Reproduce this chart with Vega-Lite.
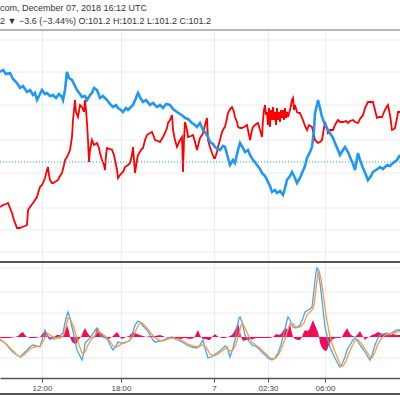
{
  "$schema": "https://vega.github.io/schema/vega-lite/v6.json",
  "autosize": {"type": "none"},
  "padding": {"top": 30, "left": 0, "right": 0, "bottom": 22},
  "background": "white",
  "width": 400,
  "height": 348,
  "title": {
    "text": "com, December 07, 2018 16:12 UTC",
    "subtitle": "2 ▼ −3.6 (−3.44%) O:101.2 H:101.2 L:101.2 C:101.2",
    "anchor": "start",
    "frame": "group",
    "font": "Liberation Sans",
    "fontSize": 9,
    "fontWeight": "normal",
    "color": "#333333",
    "subtitleFont": "Liberation Sans",
    "subtitleFontSize": 9,
    "subtitleColor": "#333333",
    "subtitlePadding": 4,
    "offset": 3
  },
  "datasets": {
    "symbol": [
      {"i": 0, "p": -4.5}, {"i": 3, "p": -4.3}, {"i": 6, "p": -4.2}, {"i": 8, "p": -4.1}, {"i": 10, "p": -4.6},
      {"i": 12, "p": -5.1}, {"i": 14, "p": -5.8}, {"i": 17, "p": -6.6}, {"i": 20, "p": -6.6}, {"i": 22, "p": -6.5},
      {"i": 25, "p": -6.4}, {"i": 27, "p": -6.3}, {"i": 28, "p": -4.8}, {"i": 30, "p": -4.5}, {"i": 33, "p": -4.1},
      {"i": 35, "p": -3.8}, {"i": 37, "p": -3.5}, {"i": 39, "p": -2.8}, {"i": 40, "p": -2.5}, {"i": 42, "p": -2.3},
      {"i": 43, "p": -2.1}, {"i": 45, "p": -1.6}, {"i": 47, "p": -0.8}, {"i": 48, "p": -0.5}, {"i": 49, "p": -1.3},
      {"i": 50, "p": -1.8}, {"i": 52, "p": -2.1}, {"i": 53, "p": -2.1}, {"i": 55, "p": -2.0}, {"i": 58, "p": -1.8},
      {"i": 60, "p": -1.4}, {"i": 62, "p": -1.1}, {"i": 64, "p": -0.3}, {"i": 65, "p": 0.2}, {"i": 67, "p": 0.5},
      {"i": 68, "p": 0.7}, {"i": 70, "p": 1.2}, {"i": 72, "p": 2.5}, {"i": 73, "p": 4.2}, {"i": 74, "p": 5.2},
      {"i": 75, "p": 6.2}, {"i": 76, "p": 5.0}, {"i": 78, "p": 4.5}, {"i": 80, "p": 5.7}, {"i": 82, "p": 5.5},
      {"i": 84, "p": 5.0}, {"i": 85, "p": 6.2}, {"i": 86, "p": 5.2}, {"i": 87, "p": 3.9}, {"i": 88, "p": 2.2},
      {"i": 89, "p": 0.0}, {"i": 90, "p": 1.2}, {"i": 92, "p": 2.2}, {"i": 94, "p": 1.7}, {"i": 97, "p": 1.9},
      {"i": 99, "p": 1.4}, {"i": 100, "p": 0.9}, {"i": 102, "p": 0.2}, {"i": 104, "p": -0.3}, {"i": 105, "p": -0.8},
      {"i": 106, "p": 0.7}, {"i": 107, "p": 1.4}, {"i": 110, "p": 1.3}, {"i": 112, "p": 1.2}, {"i": 114, "p": 0.7},
      {"i": 115, "p": 0.2}, {"i": 117, "p": -0.8}, {"i": 118, "p": -1.6}, {"i": 120, "p": -1.3}, {"i": 122, "p": -1.1},
      {"i": 124, "p": -0.8}, {"i": 125, "p": -0.5}, {"i": 128, "p": -0.3}, {"i": 130, "p": -0.1}, {"i": 132, "p": 0.7},
      {"i": 133, "p": 1.5}, {"i": 134, "p": 0.2}, {"i": 135, "p": -1.1}, {"i": 137, "p": 0.2}, {"i": 138, "p": 0.7},
      {"i": 141, "p": 1.2}, {"i": 143, "p": 1.4}, {"i": 145, "p": 2.2}, {"i": 147, "p": 2.7}, {"i": 150, "p": 2.9},
      {"i": 152, "p": 3.0}, {"i": 154, "p": 2.5}, {"i": 155, "p": 2.2}, {"i": 158, "p": 2.1}, {"i": 160, "p": 2.0},
      {"i": 163, "p": 2.5}, {"i": 165, "p": 2.9}, {"i": 167, "p": 3.4}, {"i": 168, "p": 3.9}, {"i": 170, "p": 4.2},
      {"i": 172, "p": 4.7}, {"i": 173, "p": 3.2}, {"i": 175, "p": 2.2}, {"i": 177, "p": 1.5}, {"i": 179, "p": 2.0},
      {"i": 182, "p": 2.5}, {"i": 183, "p": -1.0}, {"i": 184, "p": 2.2}, {"i": 185, "p": 4.0}, {"i": 187, "p": 3.2},
      {"i": 188, "p": 2.5}, {"i": 191, "p": 2.6}, {"i": 193, "p": 2.7}, {"i": 195, "p": 2.0}, {"i": 197, "p": 1.2},
      {"i": 199, "p": 2.0}, {"i": 200, "p": 2.4}, {"i": 202, "p": 2.7}, {"i": 203, "p": 2.9}, {"i": 205, "p": 3.7},
      {"i": 207, "p": 4.4}, {"i": 208, "p": 2.2}, {"i": 210, "p": 1.5}, {"i": 212, "p": 0.9}, {"i": 214, "p": 0.4},
      {"i": 215, "p": 0.4}, {"i": 217, "p": 1.0}, {"i": 218, "p": 1.5}, {"i": 220, "p": 2.2}, {"i": 222, "p": 3.0},
      {"i": 224, "p": 3.4}, {"i": 225, "p": 3.5}, {"i": 227, "p": 4.4}, {"i": 228, "p": 4.9}, {"i": 230, "p": 5.3},
      {"i": 232, "p": 5.5}, {"i": 234, "p": 5.0}, {"i": 235, "p": 4.5}, {"i": 237, "p": 4.0}, {"i": 238, "p": 3.5},
      {"i": 240, "p": 3.4}, {"i": 242, "p": 3.4}, {"i": 244, "p": 3.5}, {"i": 247, "p": 3.7}, {"i": 249, "p": 2.7},
      {"i": 250, "p": 2.2}, {"i": 252, "p": 3.2}, {"i": 253, "p": 3.5}, {"i": 255, "p": 3.7}, {"i": 258, "p": 3.9},
      {"i": 260, "p": 3.2}, {"i": 262, "p": 2.5}, {"i": 263, "p": 4.2}, {"i": 264, "p": 5.2}, {"i": 265, "p": 5.7},
      {"i": 266, "p": 4.7}, {"i": 267, "p": 5.0}, {"i": 268, "p": 3.7}, {"i": 269, "p": 5.4}, {"i": 270, "p": 3.5},
      {"i": 271, "p": 5.2}, {"i": 272, "p": 4.2}, {"i": 273, "p": 5.5}, {"i": 274, "p": 4.2}, {"i": 275, "p": 5.0},
      {"i": 276, "p": 3.7}, {"i": 277, "p": 5.4}, {"i": 278, "p": 4.2}, {"i": 279, "p": 5.0}, {"i": 280, "p": 4.0},
      {"i": 281, "p": 5.2}, {"i": 282, "p": 4.4}, {"i": 283, "p": 5.2}, {"i": 284, "p": 4.2}, {"i": 285, "p": 5.4},
      {"i": 286, "p": 4.4}, {"i": 287, "p": 5.0}, {"i": 288, "p": 4.5}, {"i": 290, "p": 5.2}, {"i": 291, "p": 5.7},
      {"i": 292, "p": 6.2}, {"i": 293, "p": 6.4}, {"i": 294, "p": 5.2}, {"i": 295, "p": 5.7}, {"i": 297, "p": 5.0},
      {"i": 299, "p": 4.9}, {"i": 300, "p": 4.9}, {"i": 302, "p": 4.4}, {"i": 303, "p": 4.2}, {"i": 305, "p": 3.6},
      {"i": 307, "p": 3.2}, {"i": 309, "p": 3.7}, {"i": 312, "p": 3.5}, {"i": 314, "p": 2.7}, {"i": 315, "p": 2.2},
      {"i": 317, "p": 2.0}, {"i": 318, "p": 1.9}, {"i": 320, "p": 2.0}, {"i": 322, "p": 2.2}, {"i": 324, "p": 3.4},
      {"i": 325, "p": 4.0}, {"i": 327, "p": 3.4}, {"i": 328, "p": 2.9}, {"i": 330, "p": 3.2}, {"i": 333, "p": 3.2},
      {"i": 335, "p": 3.7}, {"i": 338, "p": 4.2}, {"i": 340, "p": 4.0}, {"i": 343, "p": 4.0}, {"i": 346, "p": 4.1},
      {"i": 348, "p": 3.9}, {"i": 350, "p": 4.1}, {"i": 353, "p": 4.2}, {"i": 355, "p": 4.0}, {"i": 358, "p": 3.9},
      {"i": 360, "p": 4.3}, {"i": 363, "p": 4.7}, {"i": 365, "p": 5.4}, {"i": 368, "p": 6.0}, {"i": 370, "p": 6.0},
      {"i": 373, "p": 6.0}, {"i": 375, "p": 5.2}, {"i": 377, "p": 4.4}, {"i": 379, "p": 4.5}, {"i": 382, "p": 4.5},
      {"i": 384, "p": 5.0}, {"i": 386, "p": 5.4}, {"i": 388, "p": 5.7}, {"i": 390, "p": 4.7}, {"i": 392, "p": 3.2},
      {"i": 394, "p": 3.3}, {"i": 395, "p": 3.4}, {"i": 397, "p": 4.4}, {"i": 398, "p": 5.0}, {"i": 400, "p": 5.0}
    ],
    "compare": [
      {"i": 0, "p": 9.0}, {"i": 3, "p": 9.2}, {"i": 6, "p": 8.8}, {"i": 10, "p": 8.9}, {"i": 13, "p": 8.3},
      {"i": 17, "p": 7.9}, {"i": 20, "p": 7.4}, {"i": 23, "p": 7.6}, {"i": 27, "p": 7.0}, {"i": 30, "p": 7.2},
      {"i": 33, "p": 6.7}, {"i": 35, "p": 6.9}, {"i": 37, "p": 6.2}, {"i": 40, "p": 6.8}, {"i": 42, "p": 7.2},
      {"i": 45, "p": 6.8}, {"i": 47, "p": 6.9}, {"i": 50, "p": 6.6}, {"i": 53, "p": 6.7}, {"i": 56, "p": 6.4},
      {"i": 59, "p": 6.8}, {"i": 62, "p": 6.5}, {"i": 63, "p": 6.2}, {"i": 65, "p": 7.2}, {"i": 67, "p": 9.0},
      {"i": 69, "p": 8.4}, {"i": 72, "p": 8.2}, {"i": 75, "p": 7.6}, {"i": 77, "p": 7.2}, {"i": 80, "p": 6.8},
      {"i": 82, "p": 6.5}, {"i": 85, "p": 6.6}, {"i": 87, "p": 6.2}, {"i": 90, "p": 6.7}, {"i": 92, "p": 6.9},
      {"i": 94, "p": 7.4}, {"i": 97, "p": 7.2}, {"i": 100, "p": 6.4}, {"i": 103, "p": 6.6}, {"i": 107, "p": 6.2},
      {"i": 110, "p": 5.8}, {"i": 113, "p": 5.5}, {"i": 116, "p": 5.7}, {"i": 118, "p": 5.4}, {"i": 121, "p": 5.2},
      {"i": 123, "p": 5.0}, {"i": 126, "p": 5.4}, {"i": 128, "p": 5.2}, {"i": 131, "p": 5.5}, {"i": 133, "p": 5.7},
      {"i": 136, "p": 6.4}, {"i": 138, "p": 6.9}, {"i": 141, "p": 6.3}, {"i": 143, "p": 6.0}, {"i": 146, "p": 6.2},
      {"i": 150, "p": 5.7}, {"i": 153, "p": 5.9}, {"i": 157, "p": 5.5}, {"i": 160, "p": 5.7}, {"i": 163, "p": 5.4},
      {"i": 166, "p": 5.8}, {"i": 170, "p": 5.7}, {"i": 173, "p": 5.3}, {"i": 177, "p": 5.0}, {"i": 180, "p": 4.8},
      {"i": 183, "p": 4.6}, {"i": 185, "p": 4.4}, {"i": 188, "p": 4.3}, {"i": 192, "p": 3.9}, {"i": 195, "p": 3.7},
      {"i": 197, "p": 3.5}, {"i": 200, "p": 3.9}, {"i": 203, "p": 3.2}, {"i": 205, "p": 3.0}, {"i": 208, "p": 2.5},
      {"i": 210, "p": 2.0}, {"i": 213, "p": 1.8}, {"i": 215, "p": 1.5}, {"i": 218, "p": 1.3}, {"i": 220, "p": 1.2},
      {"i": 223, "p": 1.6}, {"i": 225, "p": 1.5}, {"i": 228, "p": 0.4}, {"i": 230, "p": -0.3}, {"i": 233, "p": 0.2},
      {"i": 235, "p": -0.1}, {"i": 238, "p": 1.2}, {"i": 240, "p": 1.9}, {"i": 243, "p": 1.4}, {"i": 245, "p": 1.0},
      {"i": 248, "p": 1.2}, {"i": 250, "p": 0.7}, {"i": 253, "p": 0.2}, {"i": 255, "p": 0.0}, {"i": 257, "p": -0.3},
      {"i": 260, "p": -0.7}, {"i": 262, "p": -1.1}, {"i": 265, "p": -1.4}, {"i": 267, "p": -1.8}, {"i": 270, "p": -2.4},
      {"i": 272, "p": -3.0}, {"i": 275, "p": -2.8}, {"i": 277, "p": -3.1}, {"i": 280, "p": -2.9}, {"i": 283, "p": -3.3},
      {"i": 285, "p": -2.6}, {"i": 287, "p": -1.8}, {"i": 290, "p": -1.4}, {"i": 292, "p": -1.0}, {"i": 295, "p": -1.6},
      {"i": 297, "p": -2.1}, {"i": 300, "p": -1.6}, {"i": 302, "p": -1.1}, {"i": 305, "p": -0.4}, {"i": 307, "p": 0.4},
      {"i": 310, "p": 1.0}, {"i": 312, "p": 1.5}, {"i": 314, "p": 3.2}, {"i": 315, "p": 4.9}, {"i": 317, "p": 5.7},
      {"i": 318, "p": 6.2}, {"i": 320, "p": 5.4}, {"i": 322, "p": 4.5}, {"i": 325, "p": 3.7}, {"i": 328, "p": 3.2},
      {"i": 330, "p": 2.9}, {"i": 333, "p": 2.4}, {"i": 335, "p": 1.9}, {"i": 338, "p": 1.2}, {"i": 340, "p": 0.7},
      {"i": 343, "p": 1.2}, {"i": 345, "p": 1.5}, {"i": 348, "p": 1.0}, {"i": 350, "p": 0.5}, {"i": 353, "p": -0.2},
      {"i": 355, "p": -0.8}, {"i": 358, "p": 0.9}, {"i": 360, "p": 0.2}, {"i": 363, "p": -0.6}, {"i": 366, "p": -1.3},
      {"i": 368, "p": -1.8}, {"i": 371, "p": -1.4}, {"i": 373, "p": -1.0}, {"i": 376, "p": -0.8}, {"i": 380, "p": -0.5},
      {"i": 383, "p": -0.7}, {"i": 387, "p": -0.3}, {"i": 390, "p": -0.4}, {"i": 393, "p": -0.1}, {"i": 397, "p": 0.2},
      {"i": 400, "p": 0.7}
    ],
    "macd": [
      {"i": 0, "m": -0.03}, {"i": 4, "m": -0.05}, {"i": 7, "m": -0.08}, {"i": 10, "m": -0.12}, {"i": 13, "m": -0.15},
      {"i": 17, "m": -0.18}, {"i": 20, "m": -0.2}, {"i": 23, "m": -0.17}, {"i": 27, "m": -0.13}, {"i": 30, "m": -0.1},
      {"i": 33, "m": -0.08}, {"i": 37, "m": -0.09}, {"i": 40, "m": -0.1}, {"i": 42, "m": -0.03}, {"i": 45, "m": 0.07},
      {"i": 48, "m": 0.01}, {"i": 50, "m": -0.01}, {"i": 54, "m": -0.02}, {"i": 57, "m": -0.01}, {"i": 60, "m": 0.01},
      {"i": 63, "m": 0.04}, {"i": 66, "m": 0.19}, {"i": 68, "m": 0.25}, {"i": 70, "m": 0.19}, {"i": 72, "m": 0.1},
      {"i": 75, "m": -0.03}, {"i": 77, "m": -0.13}, {"i": 80, "m": -0.19}, {"i": 82, "m": -0.23}, {"i": 84, "m": -0.15},
      {"i": 85, "m": -0.06}, {"i": 88, "m": -0.03}, {"i": 90, "m": -0.01}, {"i": 94, "m": 0.05}, {"i": 97, "m": 0.09},
      {"i": 100, "m": 0.03}, {"i": 102, "m": 0.0}, {"i": 105, "m": 0.0}, {"i": 107, "m": -0.01}, {"i": 110, "m": -0.08},
      {"i": 113, "m": -0.13}, {"i": 116, "m": -0.09}, {"i": 118, "m": -0.05}, {"i": 121, "m": -0.06}, {"i": 123, "m": -0.06},
      {"i": 127, "m": -0.05}, {"i": 130, "m": -0.03}, {"i": 133, "m": 0.05}, {"i": 135, "m": 0.12}, {"i": 138, "m": 0.16},
      {"i": 140, "m": 0.15}, {"i": 143, "m": 0.11}, {"i": 147, "m": 0.07}, {"i": 150, "m": 0.02}, {"i": 153, "m": -0.03},
      {"i": 155, "m": -0.05}, {"i": 160, "m": -0.04}, {"i": 163, "m": -0.03}, {"i": 168, "m": -0.01}, {"i": 172, "m": 0.0},
      {"i": 175, "m": -0.02}, {"i": 178, "m": -0.03}, {"i": 182, "m": -0.05}, {"i": 187, "m": -0.08}, {"i": 192, "m": -0.1},
      {"i": 197, "m": -0.11}, {"i": 200, "m": -0.08}, {"i": 203, "m": -0.03}, {"i": 205, "m": -0.11}, {"i": 208, "m": -0.21},
      {"i": 211, "m": -0.2}, {"i": 214, "m": -0.18}, {"i": 217, "m": -0.16}, {"i": 221, "m": -0.13}, {"i": 225, "m": -0.09},
      {"i": 227, "m": -0.1}, {"i": 230, "m": -0.2}, {"i": 233, "m": -0.11}, {"i": 235, "m": -0.03}, {"i": 237, "m": 0.09},
      {"i": 239, "m": 0.19}, {"i": 240, "m": 0.2}, {"i": 242, "m": 0.15}, {"i": 245, "m": 0.02}, {"i": 248, "m": -0.03},
      {"i": 252, "m": -0.08}, {"i": 255, "m": -0.09}, {"i": 258, "m": -0.11}, {"i": 262, "m": -0.15}, {"i": 265, "m": -0.18},
      {"i": 268, "m": -0.21}, {"i": 272, "m": -0.23}, {"i": 275, "m": -0.21}, {"i": 278, "m": -0.16}, {"i": 281, "m": -0.08},
      {"i": 283, "m": 0.01}, {"i": 285, "m": 0.07}, {"i": 287, "m": 0.17}, {"i": 288, "m": 0.2}, {"i": 290, "m": 0.17},
      {"i": 293, "m": 0.1}, {"i": 296, "m": 0.09}, {"i": 300, "m": 0.12}, {"i": 303, "m": 0.19}, {"i": 305, "m": 0.25},
      {"i": 308, "m": 0.27}, {"i": 310, "m": 0.28}, {"i": 312, "m": 0.3}, {"i": 314, "m": 0.47}, {"i": 316, "m": 0.65},
      {"i": 317, "m": 0.69}, {"i": 318, "m": 0.68}, {"i": 320, "m": 0.54}, {"i": 322, "m": 0.37}, {"i": 325, "m": 0.1},
      {"i": 328, "m": -0.03}, {"i": 330, "m": -0.1}, {"i": 333, "m": -0.17}, {"i": 335, "m": -0.21}, {"i": 338, "m": -0.27},
      {"i": 340, "m": -0.3}, {"i": 342, "m": -0.27}, {"i": 345, "m": -0.2}, {"i": 347, "m": -0.13}, {"i": 350, "m": -0.08},
      {"i": 353, "m": -0.03}, {"i": 355, "m": -0.01}, {"i": 357, "m": -0.03}, {"i": 360, "m": -0.08}, {"i": 363, "m": -0.12},
      {"i": 365, "m": -0.15}, {"i": 368, "m": -0.2}, {"i": 370, "m": -0.23}, {"i": 372, "m": -0.18}, {"i": 375, "m": -0.08},
      {"i": 378, "m": -0.01}, {"i": 380, "m": 0.02}, {"i": 384, "m": 0.03}, {"i": 387, "m": 0.04}, {"i": 390, "m": 0.02},
      {"i": 393, "m": 0.05}, {"i": 397, "m": 0.07}, {"i": 400, "m": 0.07}
    ],
    "signal": [
      {"i": 0, "m": -0.02}, {"i": 5, "m": -0.06}, {"i": 10, "m": -0.11}, {"i": 15, "m": -0.16}, {"i": 18, "m": -0.19},
      {"i": 21, "m": -0.2}, {"i": 25, "m": -0.17}, {"i": 30, "m": -0.12}, {"i": 35, "m": -0.1}, {"i": 40, "m": -0.09},
      {"i": 44, "m": -0.03}, {"i": 47, "m": 0.04}, {"i": 50, "m": 0.02}, {"i": 55, "m": -0.01}, {"i": 60, "m": -0.01},
      {"i": 63, "m": 0.01}, {"i": 66, "m": 0.1}, {"i": 68, "m": 0.19}, {"i": 70, "m": 0.18}, {"i": 73, "m": 0.12},
      {"i": 76, "m": 0.02}, {"i": 79, "m": -0.08}, {"i": 82, "m": -0.16}, {"i": 85, "m": -0.15}, {"i": 88, "m": -0.08},
      {"i": 91, "m": -0.03}, {"i": 95, "m": 0.02}, {"i": 98, "m": 0.06}, {"i": 101, "m": 0.04}, {"i": 105, "m": 0.01},
      {"i": 109, "m": -0.03}, {"i": 113, "m": -0.09}, {"i": 117, "m": -0.1}, {"i": 121, "m": -0.07}, {"i": 125, "m": -0.06},
      {"i": 129, "m": -0.04}, {"i": 133, "m": 0.0}, {"i": 136, "m": 0.07}, {"i": 139, "m": 0.13}, {"i": 142, "m": 0.14},
      {"i": 146, "m": 0.1}, {"i": 150, "m": 0.05}, {"i": 154, "m": 0.0}, {"i": 158, "m": -0.03}, {"i": 163, "m": -0.04},
      {"i": 168, "m": -0.02}, {"i": 172, "m": -0.01}, {"i": 178, "m": -0.02}, {"i": 183, "m": -0.04}, {"i": 188, "m": -0.07},
      {"i": 193, "m": -0.09}, {"i": 198, "m": -0.1}, {"i": 202, "m": -0.08}, {"i": 206, "m": -0.1}, {"i": 210, "m": -0.17},
      {"i": 214, "m": -0.19}, {"i": 218, "m": -0.17}, {"i": 222, "m": -0.14}, {"i": 226, "m": -0.11}, {"i": 230, "m": -0.14},
      {"i": 233, "m": -0.13}, {"i": 236, "m": -0.07}, {"i": 239, "m": 0.03}, {"i": 241, "m": 0.12}, {"i": 243, "m": 0.13},
      {"i": 246, "m": 0.07}, {"i": 249, "m": 0.0}, {"i": 253, "m": -0.06}, {"i": 257, "m": -0.09}, {"i": 261, "m": -0.12},
      {"i": 265, "m": -0.16}, {"i": 269, "m": -0.2}, {"i": 272, "m": -0.22}, {"i": 276, "m": -0.21}, {"i": 279, "m": -0.17},
      {"i": 282, "m": -0.1}, {"i": 285, "m": -0.02}, {"i": 288, "m": 0.08}, {"i": 290, "m": 0.13}, {"i": 293, "m": 0.13},
      {"i": 296, "m": 0.1}, {"i": 300, "m": 0.1}, {"i": 304, "m": 0.14}, {"i": 307, "m": 0.22}, {"i": 310, "m": 0.25},
      {"i": 312, "m": 0.27}, {"i": 314, "m": 0.32}, {"i": 316, "m": 0.48}, {"i": 318, "m": 0.64}, {"i": 319, "m": 0.66},
      {"i": 321, "m": 0.58}, {"i": 323, "m": 0.44}, {"i": 326, "m": 0.22}, {"i": 329, "m": 0.05}, {"i": 332, "m": -0.07},
      {"i": 335, "m": -0.15}, {"i": 338, "m": -0.22}, {"i": 341, "m": -0.29}, {"i": 343, "m": -0.29}, {"i": 346, "m": -0.24},
      {"i": 349, "m": -0.16}, {"i": 352, "m": -0.09}, {"i": 355, "m": -0.04}, {"i": 358, "m": -0.03}, {"i": 361, "m": -0.06},
      {"i": 364, "m": -0.1}, {"i": 367, "m": -0.15}, {"i": 370, "m": -0.2}, {"i": 372, "m": -0.21}, {"i": 375, "m": -0.15},
      {"i": 378, "m": -0.07}, {"i": 381, "m": -0.02}, {"i": 385, "m": 0.02}, {"i": 389, "m": 0.03}, {"i": 393, "m": 0.04},
      {"i": 397, "m": 0.05}, {"i": 400, "m": 0.06}
    ],
    "hist": [
      {"i": 0, "h": -0.01}, {"i": 5, "h": -0.01}, {"i": 10, "h": -0.01}, {"i": 15, "h": 0}, {"i": 18, "h": 0.01},
      {"i": 21, "h": 0.04}, {"i": 23, "h": 0.05}, {"i": 25, "h": 0.02}, {"i": 27, "h": 0}, {"i": 30, "h": -0.01},
      {"i": 35, "h": -0.01}, {"i": 40, "h": 0}, {"i": 43, "h": 0.04}, {"i": 45, "h": 0.06}, {"i": 47, "h": 0.02},
      {"i": 48, "h": -0.01}, {"i": 50, "h": -0.03}, {"i": 53, "h": -0.01}, {"i": 55, "h": 0.01}, {"i": 57, "h": 0.02},
      {"i": 60, "h": 0.02}, {"i": 62, "h": 0}, {"i": 64, "h": 0.02}, {"i": 66, "h": 0.08}, {"i": 67, "h": 0.12},
      {"i": 69, "h": 0.06}, {"i": 70, "h": 0}, {"i": 72, "h": -0.05}, {"i": 75, "h": -0.07}, {"i": 77, "h": -0.06},
      {"i": 79, "h": -0.02}, {"i": 81, "h": 0}, {"i": 83, "h": 0.05}, {"i": 85, "h": 0.09}, {"i": 87, "h": 0.05},
      {"i": 89, "h": 0.02}, {"i": 91, "h": 0}, {"i": 93, "h": -0.01}, {"i": 95, "h": 0}, {"i": 96, "h": 0.06},
      {"i": 98, "h": 0.09}, {"i": 100, "h": 0.04}, {"i": 102, "h": 0.03}, {"i": 104, "h": 0}, {"i": 106, "h": -0.02},
      {"i": 108, "h": -0.03}, {"i": 110, "h": -0.01}, {"i": 112, "h": 0}, {"i": 115, "h": 0.03}, {"i": 117, "h": 0.05},
      {"i": 119, "h": 0.02}, {"i": 120, "h": 0}, {"i": 122, "h": -0.02}, {"i": 124, "h": -0.01}, {"i": 126, "h": 0},
      {"i": 129, "h": 0.01}, {"i": 131, "h": 0.03}, {"i": 133, "h": 0.05}, {"i": 135, "h": 0.04}, {"i": 137, "h": 0.03},
      {"i": 140, "h": 0.02}, {"i": 143, "h": 0.01}, {"i": 146, "h": 0}, {"i": 150, "h": 0.01}, {"i": 155, "h": 0.01},
      {"i": 160, "h": 0.02}, {"i": 163, "h": 0.01}, {"i": 165, "h": 0}, {"i": 170, "h": -0.01}, {"i": 175, "h": -0.01},
      {"i": 180, "h": -0.02}, {"i": 185, "h": -0.01}, {"i": 190, "h": -0.02}, {"i": 194, "h": -0.01}, {"i": 196, "h": 0.03},
      {"i": 198, "h": 0.07}, {"i": 200, "h": 0.02}, {"i": 201, "h": 0}, {"i": 203, "h": -0.02}, {"i": 206, "h": -0.02},
      {"i": 208, "h": -0.03}, {"i": 210, "h": -0.03}, {"i": 212, "h": 0}, {"i": 214, "h": 0.02}, {"i": 215, "h": 0.03},
      {"i": 217, "h": 0.01}, {"i": 219, "h": 0}, {"i": 222, "h": -0.01}, {"i": 225, "h": -0.01}, {"i": 228, "h": 0},
      {"i": 232, "h": 0.02}, {"i": 234, "h": 0.05}, {"i": 236, "h": 0.09}, {"i": 238, "h": 0.14}, {"i": 240, "h": 0.06},
      {"i": 241, "h": 0}, {"i": 243, "h": -0.04}, {"i": 246, "h": -0.03}, {"i": 248, "h": -0.03}, {"i": 251, "h": -0.02},
      {"i": 253, "h": -0.02}, {"i": 256, "h": -0.01}, {"i": 260, "h": -0.01}, {"i": 265, "h": -0.01}, {"i": 270, "h": -0.01},
      {"i": 273, "h": 0}, {"i": 275, "h": 0.02}, {"i": 277, "h": 0.03}, {"i": 279, "h": 0.02}, {"i": 281, "h": 0.03},
      {"i": 283, "h": 0.06}, {"i": 285, "h": 0.09}, {"i": 287, "h": 0.08}, {"i": 288, "h": 0.06}, {"i": 290, "h": 0.14},
      {"i": 291, "h": 0.08}, {"i": 293, "h": 0}, {"i": 295, "h": -0.02}, {"i": 298, "h": -0.03}, {"i": 300, "h": -0.03},
      {"i": 302, "h": 0}, {"i": 303, "h": 0.03}, {"i": 305, "h": 0.07}, {"i": 307, "h": 0.06}, {"i": 309, "h": 0.07},
      {"i": 311, "h": 0.12}, {"i": 313, "h": 0.17}, {"i": 315, "h": 0.12}, {"i": 317, "h": 0.07}, {"i": 318, "h": 0.05},
      {"i": 319, "h": 0}, {"i": 320, "h": -0.06}, {"i": 322, "h": -0.11}, {"i": 324, "h": -0.13}, {"i": 326, "h": -0.14},
      {"i": 327, "h": -0.13}, {"i": 329, "h": -0.08}, {"i": 331, "h": -0.04}, {"i": 333, "h": -0.02}, {"i": 336, "h": -0.01},
      {"i": 340, "h": -0.01}, {"i": 342, "h": 0}, {"i": 344, "h": 0.04}, {"i": 346, "h": 0.07}, {"i": 347, "h": 0.09},
      {"i": 349, "h": 0.05}, {"i": 351, "h": 0.02}, {"i": 353, "h": 0.01}, {"i": 355, "h": 0}, {"i": 358, "h": 0.03},
      {"i": 360, "h": 0.06}, {"i": 362, "h": 0.02}, {"i": 364, "h": -0.01}, {"i": 365, "h": -0.03}, {"i": 367, "h": -0.01},
      {"i": 369, "h": 0}, {"i": 372, "h": 0.02}, {"i": 375, "h": 0.03}, {"i": 378, "h": 0.05}, {"i": 380, "h": 0.04},
      {"i": 383, "h": 0.03}, {"i": 385, "h": 0.04}, {"i": 388, "h": 0.03}, {"i": 391, "h": 0.02}, {"i": 393, "h": 0.03},
      {"i": 396, "h": 0.02}, {"i": 400, "h": 0.02}
    ],
    "mainGrid": [{"p": 12.2}, {"p": 9.0}, {"p": 5.7}, {"p": 2.2}, {"p": -1.1}, {"p": -4.6}, {"p": -6.8}, {"p": -9.0}],
    "oscGrid": [{"m": 0.69}, {"m": 0.45}, {"m": 0.24}, {"m": 0}, {"m": -0.21}],
    "lastValue": [{"p": 0}],
    "paneTop": [{"p": 13.2}],
    "paneSplit": [{"p": -10}],
    "scaleBottom": [{"m": -0.57}]
  },
  "layer": [
    {
      "data": {"name": "mainGrid"},
      "mark": {"type": "rule", "color": "#e6edf5", "strokeWidth": 1},
      "encoding": {
        "y": {"field": "p", "type": "quantitative", "scale": {"domain": [-21.6, 13.2], "nice": false, "zero": false}, "axis": null}
      }
    },
    {
      "data": {"name": "oscGrid"},
      "mark": {"type": "rule", "color": "#e6edf5", "strokeWidth": 1},
      "encoding": {
        "y": {"field": "m", "type": "quantitative", "scale": {"domain": [-0.41, 3.07], "nice": false, "zero": false}, "axis": null}
      }
    },
    {
      "data": {"name": "symbol"},
      "mark": {"type": "line", "color": "#ff0000", "strokeWidth": 1.8},
      "encoding": {
        "x": {
          "field": "i", "type": "quantitative",
          "scale": {"domain": [0, 400], "nice": false, "zero": false},
          "axis": {
            "values": [42, 121, 214, 268, 325],
            "labelExpr": "datum.value == 42 ? '12:00' : datum.value == 121 ? '18:00' : datum.value == 214 ? '7' : datum.value == 268 ? '02:30' : '06:00'",
            "grid": true, "gridColor": "#e6edf5", "ticks": true, "tickSize": 4, "tickColor": "#555555",
            "domainColor": "#555555", "domainWidth": 1.5,
            "labelFont": "Liberation Sans", "labelFontSize": 8, "labelColor": "#444444",
            "labelPadding": 2, "title": null
          }
        },
        "y": {"field": "p", "type": "quantitative", "scale": {"domain": [-21.6, 13.2], "nice": false, "zero": false}, "axis": null}
      }
    },
    {
      "data": {"name": "lastValue"},
      "mark": {"type": "rule", "color": "#2196f3", "strokeWidth": 1, "strokeDash": [1, 2]},
      "encoding": {
        "y": {"field": "p", "type": "quantitative", "scale": {"domain": [-21.6, 13.2], "nice": false, "zero": false}, "axis": null}
      }
    },
    {
      "data": {"name": "compare"},
      "mark": {"type": "line", "color": "#2196f3", "strokeWidth": 2.6},
      "encoding": {
        "x": {"field": "i", "type": "quantitative"},
        "y": {"field": "p", "type": "quantitative", "scale": {"domain": [-21.6, 13.2], "nice": false, "zero": false}, "axis": null}
      }
    },
    {
      "data": {"name": "hist"},
      "mark": {"type": "area", "color": "#f50a5a", "opacity": 1},
      "encoding": {
        "x": {"field": "i", "type": "quantitative"},
        "y": {"field": "h", "type": "quantitative", "scale": {"domain": [-0.41, 3.07], "nice": false, "zero": false}, "axis": null},
        "y2": {"datum": 0}
      }
    },
    {
      "data": {"name": "macd"},
      "mark": {"type": "line", "color": "#42a5f5", "strokeWidth": 1.3},
      "encoding": {
        "x": {"field": "i", "type": "quantitative"},
        "y": {"field": "m", "type": "quantitative", "scale": {"domain": [-0.41, 3.07], "nice": false, "zero": false}, "axis": null}
      }
    },
    {
      "data": {"name": "signal"},
      "mark": {"type": "line", "color": "#ff9838", "strokeWidth": 1.3},
      "encoding": {
        "x": {"field": "i", "type": "quantitative"},
        "y": {"field": "m", "type": "quantitative", "scale": {"domain": [-0.41, 3.07], "nice": false, "zero": false}, "axis": null}
      }
    },
    {
      "data": {"name": "paneTop"},
      "mark": {"type": "rule", "color": "#9e9e9e", "strokeWidth": 1.5},
      "encoding": {
        "y": {"field": "p", "type": "quantitative", "scale": {"domain": [-21.6, 13.2], "nice": false, "zero": false}, "axis": null}
      }
    },
    {
      "data": {"name": "paneSplit"},
      "mark": {"type": "rule", "color": "#555555", "strokeWidth": 2},
      "encoding": {
        "y": {"field": "p", "type": "quantitative", "scale": {"domain": [-21.6, 13.2], "nice": false, "zero": false}, "axis": null}
      }
    },
    {
      "data": {"name": "scaleBottom"},
      "mark": {"type": "rule", "color": "#555555", "strokeWidth": 2},
      "encoding": {
        "y": {"field": "m", "type": "quantitative", "scale": {"domain": [-0.41, 3.07], "nice": false, "zero": false}, "axis": null}
      }
    }
  ],
  "resolve": {"scale": {"y": "independent"}},
  "config": {
    "view": {"stroke": null}
  }
}
